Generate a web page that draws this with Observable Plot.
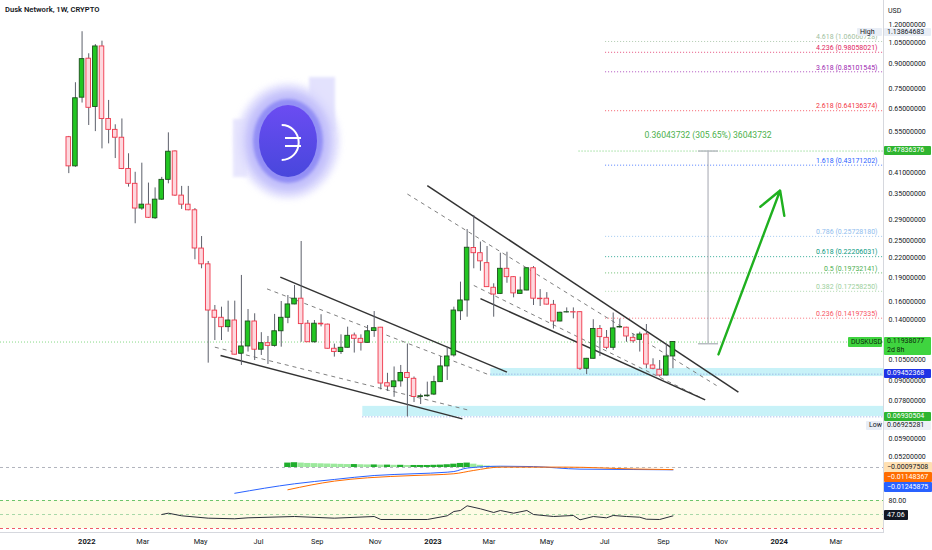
<!DOCTYPE html>
<html><head><meta charset="utf-8">
<script src="https://cdn.jsdelivr.net/npm/d3@7"></script>
<script src="https://cdn.jsdelivr.net/npm/@observablehq/plot@0.6"></script>
<style>
body{margin:0;background:#fff;font-family:Roboto,"Liberation Sans",sans-serif;}
#wrap{position:relative;width:932px;height:550px;overflow:hidden;background:#fff;}
.pane{position:absolute;left:0;}
.tag{position:absolute;font-size:7px;white-space:nowrap;padding-left:3px;box-sizing:border-box;border-radius:1px;}
#title{position:absolute;left:5px;top:5px;font-size:7.6px;font-weight:600;color:#131722;}
</style></head><body><div id="wrap"><div id="title">Dusk Network, 1W, CRYPTO</div></div>
<script>
// ---------- DATA ----------
const firstWeek = "2021-12-13";
const open  = [0.529,0.428,0.705,0.936,0.659,1.023,0.604,0.558,0.527,0.420,0.377,0.315,0.324,0.2935,0.336,0.388,0.477,0.346,0.324,0.311,
 0.2355,0.210,0.150,0.1424,0.1330,0.1396,0.1097,0.1156,0.1386,0.1129,0.1184,0.1161,0.1291,0.1424,0.1569,0.1636,0.1364,0.1192,0.1364,0.1355,
 0.1137,0.1110,0.1145,0.1252,0.1222,0.1187,0.1293,0.1325,0.0885,0.0860,0.0897,0.0953,0.0914,0.0801,0.0805,0.0815,0.0892,0.1000,0.1083,0.1493,
 0.1615,0.2364,0.2277,0.2118,0.1771,0.1694,0.2033,0.1913,0.1694,0.1736,0.2041,0.1636,0.1636,0.1565,0.1386,0.1480,0.1483,0.1483,0.0983,0.1057,
 0.1312,0.1231,0.1145,0.1327,0.1325,0.1231,0.1213,0.1261,0.1007,0.0976,0.0936,0.1075];
const high  = [0.532,0.786,1.1386,0.970,1.037,1.063,0.691,0.579,0.604,0.469,0.410,0.438,0.379,0.366,0.395,0.546,0.479,0.370,0.370,0.315,
 0.257,0.2144,0.1557,0.1538,0.1607,0.1607,0.1937,0.1512,0.1466,0.1278,0.1243,0.1459,0.1603,0.1674,0.1801,0.2479,0.1396,0.1396,0.1456,0.1360,
 0.1176,0.1258,0.1330,0.1274,0.1258,0.1346,0.1490,0.1328,0.0951,0.0996,0.1007,0.1176,0.0926,0.0817,0.0892,0.0931,0.1075,0.1150,0.1538,0.1845,
 0.2704,0.2995,0.2469,0.2390,0.1823,0.2277,0.2293,0.1916,0.1913,0.2045,0.2066,0.1748,0.1710,0.1615,0.1483,0.1530,0.1530,0.1486,0.1060,0.1404,
 0.1346,0.1298,0.1474,0.1411,0.1329,0.1264,0.1282,0.1356,0.1057,0.1044,0.1176,0.1194];
const low   = [0.406,0.425,0.678,0.576,0.551,0.486,0.504,0.453,0.418,0.368,0.282,0.311,0.293,0.291,0.334,0.377,0.344,0.313,0.310,0.2171,
 0.2033,0.1024,0.1207,0.1207,0.1282,0.1087,0.1007,0.1110,0.1044,0.1083,0.1014,0.1150,0.1150,0.1364,0.1565,0.1192,0.1190,0.1184,0.1333,0.1135,
 0.1070,0.1091,0.1143,0.1102,0.1118,0.1185,0.1235,0.0843,0.0834,0.0799,0.0860,0.06925,0.0769,0.0758,0.0799,0.0809,0.0890,0.0903,0.1070,0.1396,
 0.1430,0.2033,0.1997,0.1777,0.1430,0.1686,0.1830,0.1646,0.1690,0.1732,0.1557,0.1546,0.1562,0.1312,0.1382,0.1475,0.1413,0.0971,0.0943,0.1055,
 0.1075,0.1129,0.1123,0.1320,0.1192,0.1184,0.1110,0.0983,0.0976,0.0925,0.0934,0.0983];
const close = [0.428,0.702,0.933,0.655,1.023,0.604,0.558,0.527,0.420,0.377,0.315,0.324,0.2945,0.336,0.388,0.476,0.346,0.324,0.311,0.2356,
 0.210,0.1501,0.1424,0.1330,0.1396,0.1089,0.1156,0.1386,0.1129,0.1184,0.1161,0.1291,0.1424,0.1569,0.1636,0.1360,0.1192,0.1364,0.1357,0.1137,
 0.1110,0.1145,0.1249,0.1222,0.1187,0.1291,0.1320,0.0883,0.0864,0.0897,0.0953,0.0919,0.0801,0.0805,0.0809,0.0892,0.1000,0.1075,0.1501,0.1615,
 0.2369,0.2277,0.2146,0.1779,0.1686,0.2033,0.1913,0.1700,0.1736,0.2041,0.1636,0.1630,0.1567,0.1386,0.1477,0.1483,0.1480,0.0983,0.1057,0.1312,
 0.1237,0.1145,0.1318,0.1332,0.1243,0.1201,0.1261,0.1014,0.0983,0.0936,0.1075,0.1194];

const priceTicks = [1.2,1.05,0.9,0.75,0.65,0.55,0.41,0.35,0.29,0.25,0.22,0.19,0.16,0.14,0.105,0.09,0.078,0.059,0.052];

const fibLevels = ["4.618","4.236","3.618","2.618","1.618","0.786","0.618","0.5","0.382","0.236"];
const fibPrices = [1.06066728,0.98058021,0.85101545,0.64136374,0.43171202,0.25728180,0.22206031,0.19732141,0.17258250,0.14197335];
const fibStart = "2023-07-02";

// trend lines (falling wedges): start date/price, end date/price, dashed?
const lineStartDate  = ["2022-07-24","2022-05-22","2022-07-10","2022-05-16","2022-12-26","2022-12-05","2023-02-13","2023-02-20"];
const lineStartPrice = [0.1913,0.1083,0.1757,0.1150,0.372,0.350,0.1801,0.1636];
const lineEndDate    = ["2023-03-20","2023-02-01","2023-03-03","2023-02-09","2023-11-19","2023-10-27","2023-10-13","2023-10-15"];
const lineEndPrice   = [0.0959,0.0683,0.0936,0.0726,0.0829,0.0870,0.0790,0.0784];
const lineDashed     = [false,false,true,true,false,true,true,false];

// support zones
const zoneStart = ["2023-03-03","2022-10-19"];
const zoneLow   = [0.0929,0.0695];
const zoneHigh  = [0.0985,0.0748];
const zonePrice = [0.09452368,0.06930504];

// price range measurement and projection arrow
const rangeBase = 0.11792644, rangeTop = 0.47836376;
const rangeDate = "2023-10-18", rangeFrom = "2023-10-08", rangeTo = "2023-10-29", rangeLineFrom = "2023-06-04";
const rangeText = "0.36043732 (305.65%) 36043732";
const arrowFrom = ["2023-10-29",0.1091], arrowTo = ["2024-01-02",0.359];
const lastPrice = 0.11938077, highPrice = 1.13864683, lowPrice = 0.06925281;

// MACD (weeks counted from first candle, 1-based)
const macdWeeks = [26,35,41,47,53,58,59,61,66,71,78,86,92];
const macdVals  = [-0.140,-0.0886,-0.065,-0.0435,-0.034,-0.0255,-0.022,-0.003,0.007,0.005,-0.009,-0.011,-0.0125];
const sigWeeks  = [34,41,46,53,59,62,66,76,86,92];
const sigVals   = [-0.121,-0.074,-0.056,-0.0435,-0.034,-0.016,0.002,0.002,-0.008,-0.0115];
const histStartWeek = 34;
const histVals = [0.024,0.026,0.024,0.022,0.021,0.020,0.019,
 0.018,0.017,0.016,0.016,0.015,0.014,0.014,0.013,0.013,0.012,
 0.012,0.011,0.011,0.011,0.011,0.012,0.013,0.015,
 0.018,0.022,0.024,0.018,0.012,0.008,
 0.005,0.004,0.003,0.002,0.001,0.001,0.000,-0.001,-0.001,-0.002,-0.002,
 -0.002,-0.002,-0.002,-0.002,-0.002,-0.002,-0.002,-0.001,-0.001,-0.001,-0.001,-0.001,-0.001,-0.001,-0.001,-0.001,-0.001];
const macdLabels = ["\u22120.00097508","\u22120.01148367","\u22120.01245875"];

// RSI
const rsiWeeks = [15,16,18,22,26,28,35,41,47,48,55,58,59,60,61,63,65,66,68,70,71,74,77,78,80,82,83,85,87,88,90,92];
const rsiVals  = [50,52.8,47.2,42.1,40.8,42.9,45.7,42.1,45.7,39.3,39.3,47.2,56.4,58.6,68.6,62.2,54.3,58.6,52.8,58.6,50,45.7,47.9,38.6,45.7,42.9,47.9,45.7,44.2,39.9,39.3,47.06];
const rsiLevels = [80,50,20];

const monthTicks = ["2022-03-01","2022-05-01","2022-07-01","2022-09-01","2022-11-01","2023-03-01","2023-05-01","2023-07-01","2023-09-01","2023-11-01","2024-03-01"];
const yearTicks  = ["2022-01-01","2023-01-01","2024-01-01"];

// ---------- BUILD ----------
const D = s => new Date(s);
const weekDate = n => d3.utcDay.offset(D(firstWeek), 7*(n-1));
const candles = open.map((o,i)=>({date:weekDate(i+1), open:o, high:high[i], low:low[i], close:close[i]}));
const up = candles.filter(d=>d.close>=d.open), down = candles.filter(d=>d.close<d.open);
const xDomain = [D("2021-10-02"), D("2024-04-20")];
const END = xDomain[1];
const HALF = 58; // hours
const fib = fibLevels.map((l,i)=>({level:l, price:fibPrices[i], label:`${l} (${fibPrices[i].toFixed(8)})`}));
const fibColors = ["#9fbf9f","#e0245e","#9c27b0","#f23645","#2962ff","#8fbdee","#089981","#4caf50","#9ccf9c","#f7525f"];
const segs = lineStartDate.map((s,i)=>({x1:D(s),y1:lineStartPrice[i],x2:D(lineEndDate[i]),y2:lineEndPrice[i],dashed:lineDashed[i]}));
const zones = zoneStart.map((s,i)=>({x1:D(s),x2:END,y1:zoneLow[i],y2:zoneHigh[i],p:zonePrice[i]}));
const font = "Roboto, 'Liberation Sans', sans-serif";
const common = {width:932, marginLeft:0, marginRight:49, x:{domain:xDomain, axis:null},
  style:{fontFamily:font, fontSize:"7px", color:"#131722", background:"transparent", overflow:"visible"}};

const pricePlot = Plot.plot({...common, height:460, marginTop:0, marginBottom:0,
  y:{type:"log", domain:[0.05047,1.4287], axis:null},
  marks:[
    Plot.rect(zones,{x1:"x1",x2:"x2",y1:"y1",y2:"y2",fill:"#b5eef6",fillOpacity:0.75}),
    Plot.ruleY(zones,{x1:"x1",x2:"x2",y:"p",stroke:"#8aa0e0",strokeDasharray:"1,2"}),
    Plot.ruleY([lastPrice],{x1:xDomain[0],x2:END,stroke:"#86d986",strokeDasharray:"1,2"}),
    Plot.ruleY([rangeTop],{x1:D(rangeLineFrom),x2:END,stroke:"#6fcf6f",strokeDasharray:"1,2"}),
    Plot.ruleY(fib,{x1:D(fibStart),x2:END,y:"price",stroke:(d,i)=>i,strokeDasharray:"1,2",strokeOpacity:0.8}),
    Plot.text(fib,{x:END,y:"price",text:"label",fill:(d,i)=>i,textAnchor:"end",dx:-6,dy:-4.5,fontSize:7}),
    Plot.ruleX([rangeDate].map(D),{y1:rangeBase,y2:rangeTop,stroke:"#a3a6af",strokeWidth:1}),
    Plot.ruleY([rangeBase,rangeTop],{x1:D(rangeFrom),x2:D(rangeTo),stroke:"#b8bbc2",strokeWidth:1.5}),
    Plot.text([rangeText],{x:D(rangeDate),y:0.536,text:d=>d,fill:"#4cb04c",fontSize:8.6}),
    Plot.link(segs.filter(d=>d.dashed),{x1:"x1",y1:"y1",x2:"x2",y2:"y2",stroke:"#808080",strokeWidth:1,strokeDasharray:"4,4"}),
    Plot.link(segs.filter(d=>!d.dashed),{x1:"x1",y1:"y1",x2:"x2",y2:"y2",stroke:"#333",strokeWidth:1.5}),
    Plot.ruleX(candles,{x:"date",y1:"low",y2:"high",stroke:"#5d606b",strokeWidth:1}),
    Plot.rect(down,{x1:d=>d3.utcHour.offset(d.date,-HALF),x2:d=>d3.utcHour.offset(d.date,HALF),y1:"open",y2:"close",fill:"#fdd8de",stroke:"#f0364a",strokeWidth:0.9}),
    Plot.rect(up,{x1:d=>d3.utcHour.offset(d.date,-HALF),x2:d=>d3.utcHour.offset(d.date,HALF),y1:"open",y2:"close",fill:"#22c622",stroke:"#1d4f1d",strokeWidth:0.9}),
    Plot.arrow([0],{x1:D(arrowFrom[0]),y1:arrowFrom[1],x2:D(arrowTo[0]),y2:arrowTo[1],stroke:"#1fb01f",strokeWidth:2.4,headLength:16}),
    Plot.axisY(priceTicks,{anchor:"right",label:null,tickSize:0,tickPadding:5,tickFormat:d3.format(".8f"),fill:"#131722",fontSize:7}),
    Plot.frame({anchor:"right",stroke:"#d6d8de"})
  ],
  color:{type:"ordinal", domain:d3.range(fibColors.length), range:fibColors}
});

const hist = histVals.map((v,i)=>({date:weekDate(histStartWeek+i), v, prev:i?histVals[i-1]:v}));
const macdPlot = Plot.plot({...common, height:37, marginTop:0, marginBottom:0,
  y:{domain:[-0.163,0.038], axis:null},
  marks:[
    Plot.ruleY([0],{stroke:"#b2b5be",strokeDasharray:"3,3"}),
    Plot.rect(hist.filter(d=>d.v>=0&&d.v>=d.prev),{x1:d=>d3.utcHour.offset(d.date,-80),x2:d=>d3.utcHour.offset(d.date,80),y1:0,y2:"v",fill:"#1fae2c"}),
    Plot.rect(hist.filter(d=>d.v>=0&&d.v<d.prev),{x1:d=>d3.utcHour.offset(d.date,-80),x2:d=>d3.utcHour.offset(d.date,80),y1:0,y2:"v",fill:"#9ce99c"}),
    Plot.rect(hist.filter(d=>d.v<0),{x1:d=>d3.utcHour.offset(d.date,-80),x2:d=>d3.utcHour.offset(d.date,80),y1:0,y2:"v",fill:"#ffcc99"}),
    Plot.line(macdWeeks.map((n,i)=>({date:weekDate(n),v:macdVals[i]})),{x:"date",y:"v",stroke:"#2962ff",strokeWidth:1,curve:"monotone-x"}),
    Plot.line(sigWeeks.map((n,i)=>({date:weekDate(n),v:sigVals[i]})),{x:"date",y:"v",stroke:"#ff6d00",strokeWidth:1,curve:"monotone-x"}),
    Plot.frame({anchor:"right",stroke:"#d6d8de"})
  ]});

const rsiPlot = Plot.plot({...common, height:53, marginTop:0, marginBottom:18,
  y:{domain:[11.43,86.43], axis:null},
  marks:[
    Plot.rect([0],{x1:xDomain[0],x2:END,y1:20,y2:80,fill:"#fdfbe4"}),
    Plot.ruleY(rsiLevels,{stroke:(d,i)=>i,strokeDasharray:"3,3"}),
    Plot.line(rsiWeeks.map((n,i)=>({date:weekDate(n),v:rsiVals[i]})),{x:"date",y:"v",stroke:"#2a2e39",strokeWidth:1}),
    Plot.axisY([80],{anchor:"right",label:null,tickSize:0,tickPadding:5,tickFormat:d3.format(".2f"),fill:"#131722",fontSize:7}),
    Plot.axisX(monthTicks.map(D),{label:null,tickSize:0,tickPadding:6,tickFormat:d3.utcFormat("%b"),fill:"#131722",fontSize:7.4}),
    Plot.axisX(yearTicks.map(D),{label:null,tickSize:0,tickPadding:6,tickFormat:d3.utcFormat("%Y"),fill:"#131722",fontSize:7.6,fontWeight:"bold"}),
    Plot.frame({anchor:"right",stroke:"#d6d8de"}),
    Plot.frame({anchor:"bottom",stroke:"#d6d8de"})
  ],
  color:{type:"ordinal", domain:[0,1,2], range:["#6cc46c","#a8d8a8","#ef5a6a"]}
});

const wrap = document.getElementById("wrap");
function place(el, top){ const d=document.createElement("div"); d.className="pane"; d.style.top=top+"px"; d.appendChild(el); wrap.appendChild(d); }
const TOP = {price:0, macd:460, rsi:497};
place(pricePlot, TOP.price); place(macdPlot, TOP.macd); place(rsiPlot, TOP.rsi);

// logo overlay (decorative image)
const logo = document.createElement("div");
logo.style.cssText="position:absolute;left:223px;top:67px;width:130px;height:140px;";
logo.innerHTML = `<svg width="130" height="140" viewBox="0 0 130 140">
<defs>
<filter id="b4" x="-30%" y="-30%" width="160%" height="160%"><feGaussianBlur stdDeviation="3.5"/></filter>
<filter id="b2" x="-30%" y="-30%" width="160%" height="160%"><feGaussianBlur stdDeviation="1.8"/></filter>
<linearGradient id="g2" x1="0" y1="0" x2="0" y2="1"><stop offset="0" stop-color="#6b4cf2"/><stop offset="1" stop-color="#4847dc"/></linearGradient></defs>
<ellipse cx="65" cy="74" rx="51" ry="57" fill="#dcdafd" opacity="0.9" filter="url(#b4)"/>
<rect x="86" y="10" width="26" height="54" fill="#dddbfd" opacity="0.8" filter="url(#b2)"/>
<rect x="10" y="52" width="14" height="58" fill="#e2e0fd" opacity="0.8" filter="url(#b2)"/>
<ellipse cx="65" cy="74" rx="43" ry="50" fill="#bdbafa" opacity="0.85" filter="url(#b4)"/>
<ellipse cx="65" cy="74" rx="35" ry="42" fill="#8e8af5" opacity="0.9" filter="url(#b2)"/>
<ellipse cx="65" cy="74" rx="29" ry="36" fill="url(#g2)"/>
<path d="M58.7 58 A17 17.5 0 0 1 58.7 93" fill="none" stroke="#fff" stroke-width="2"/>
<line x1="62" y1="71" x2="78" y2="71" stroke="#fff" stroke-width="2"/>
<line x1="62" y1="79" x2="78" y2="79" stroke="#fff" stroke-width="2"/>
</svg>`;
wrap.insertBefore(logo, wrap.firstChild.nextSibling);

// axis tags
function tag(text, yc, o={}){
  const h=o.h||9, top=o.top!=null?o.top:yc-h/2;
  const d=document.createElement("div"); d.className="tag"; d.innerHTML=text;
  d.style.lineHeight=(o.lh||h)+"px";
  d.style.left=(o.left||884)+"px"; d.style.width=(o.width||47)+"px"; d.style.top=top+"px"; d.style.height=h+"px";
  d.style.background=o.bg||"transparent"; d.style.color=o.color||"#131722"; wrap.appendChild(d); return d;
}
const py = v => TOP.price + pricePlot.scale("y").apply(v);
const my = v => TOP.macd + macdPlot.scale("y").apply(v);
const ry = v => TOP.rsi + rsiPlot.scale("y").apply(v);
tag("USD", 11, {left:885, width:30});
tag("High", py(highPrice)+0.5, {left:857, width:25, bg:"#e9eef6", h:8});
tag(highPrice.toFixed(8), py(highPrice)+0.5, {bg:"#e9eef6", h:8});
tag(rangeTop.toFixed(8), py(rangeTop), {bg:"#2fb52f", color:"#fff"});
tag("DUSKUSD", py(lastPrice), {left:848, width:34, bg:"#3fd43f", color:"#0b2a0b", h:10});
tag(lastPrice.toFixed(8)+"<br>2d 8h", 0, {top:py(lastPrice)-5, h:18, lh:9, bg:"#3fd43f", color:"#0b2a0b"});
tag(zonePrice[0].toFixed(8), py(zonePrice[0]), {bg:"#1f33e6", color:"#fff"});
tag(zonePrice[1].toFixed(8), py(zonePrice[1]), {bg:"#2fb52f", color:"#fff"});
tag("Low", py(lowPrice)+9, {left:866, width:16, bg:"#e9eef6"});
tag(lowPrice.toFixed(8), py(lowPrice)+9, {bg:"#eef1f6"});
// MACD tags, stacked to avoid overlap
const macdTagStyle = [{bg:"#ffe0b2",color:"#131722"},{bg:"#ff6d00",color:"#fff"},{bg:"#2962ff",color:"#fff"}];
const macdLast = [histVals[histVals.length-1], sigVals[sigVals.length-1], macdVals[macdVals.length-1]];
let prevY = -Infinity;
macdLabels.forEach((t,i)=>{ let y=Math.max(my(macdLast[i]), prevY+10); prevY=y; tag(t, y, {...macdTagStyle[i], h:10, width:48}); });
tag(rsiVals[rsiVals.length-1].toFixed(2), ry(rsiVals[rsiVals.length-1]), {bg:"#131722", color:"#fff", width:24, h:10});
</script></body></html>
